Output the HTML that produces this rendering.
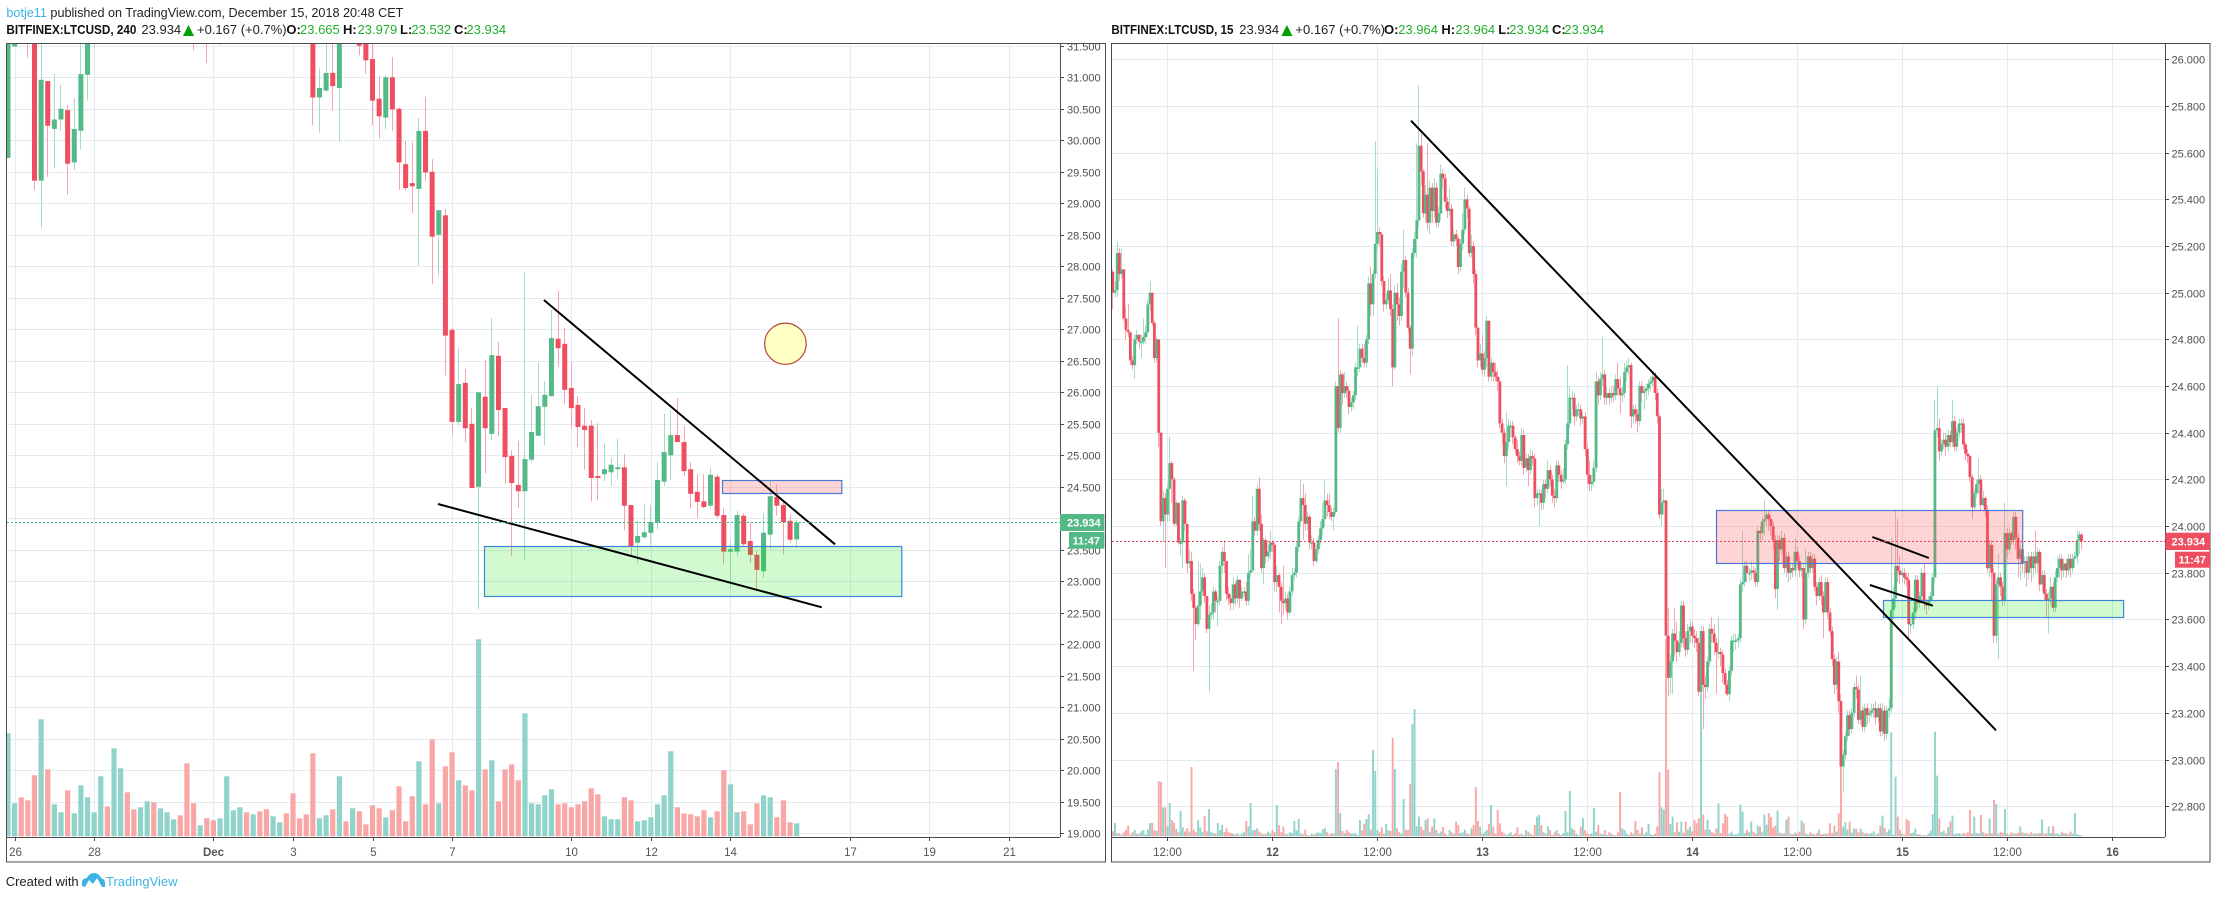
<!DOCTYPE html>
<html lang="en">
<head>
<meta charset="utf-8">
<title>LTCUSD chart</title>
<style>
html,body{margin:0;padding:0;background:#fff;width:2217px;height:899px;overflow:hidden}
svg{display:block;font-family:"Liberation Sans",sans-serif}
.hd{font-size:13px;fill:#222}
.b{font-weight:bold;fill:#111}
.g{fill:#22ad2e}
.ax{font-size:11px;fill:#4e4e4e}
.tm{font-size:11.5px;fill:#555;text-anchor:middle}
</style>
</head>
<body>
<svg id="root" xmlns="http://www.w3.org/2000/svg" width="2217" height="899" viewBox="0 0 2217 899">
<defs>
<clipPath id="clipL"><rect x="7" y="44" width="1053" height="793"/></clipPath>
<clipPath id="clipR"><rect x="1112" y="44" width="1053" height="793"/></clipPath>
</defs>
<rect x="0" y="0" width="2217" height="899" fill="#fff"/>

<g>
<text class="hd" x="6.4" y="17" textLength="397" lengthAdjust="spacingAndGlyphs"><tspan fill="#3bb3e4">botje11</tspan> published on TradingView.com, December 15, 2018 20:48 CET</text>
<text class="hd b" x="6.4" y="34" textLength="130" lengthAdjust="spacingAndGlyphs">BITFINEX:LTCUSD, 240</text>
<text class="hd" x="141.4" y="34">23.934</text>
<polygon points="183,36 194,36 188.5,25" fill="#00a000"/>
<text class="hd" x="197" y="34">+0.167 (+0.7%)</text>
<text class="hd b" x="286.4" y="34">O:</text><text class="hd g" x="300" y="34">23.665</text>
<text class="hd b" x="343" y="34">H:</text><text class="hd g" x="357.5" y="34">23.979</text>
<text class="hd b" x="400" y="34">L:</text><text class="hd g" x="411.4" y="34">23.532</text>
<text class="hd b" x="454" y="34">C:</text><text class="hd g" x="466.4" y="34">23.934</text>
</g>

<g>
<text class="hd b" x="1111.4" y="34" textLength="122" lengthAdjust="spacingAndGlyphs">BITFINEX:LTCUSD, 15</text>
<text class="hd" x="1239.3" y="34">23.934</text>
<polygon points="1281.4,36 1292.4,36 1286.9,25" fill="#00a000"/>
<text class="hd" x="1295.4" y="34">+0.167 (+0.7%)</text>
<text class="hd b" x="1384" y="34">O:</text><text class="hd g" x="1398.2" y="34">23.964</text>
<text class="hd b" x="1441.4" y="34">H:</text><text class="hd g" x="1455.4" y="34">23.964</text>
<text class="hd b" x="1498.2" y="34">L:</text><text class="hd g" x="1509.3" y="34">23.934</text>
<text class="hd b" x="1552" y="34">C:</text><text class="hd g" x="1564.3" y="34">23.934</text>
</g>

<g id="leftGrid"></g>
<g id="rightGrid"></g>
<g clip-path="url(#clipL)">
<g id="leftVol"></g>
<g id="leftCandles"></g>
<rect x="722.5" y="480.5" width="119.3" height="13" fill="#ff5252" fill-opacity=".25" stroke="#4a78d8" stroke-width="1.2"/>
<rect x="484.5" y="546.5" width="417.3" height="50" fill="#00e600" fill-opacity=".18" stroke="#3d85d8" stroke-width="1.2"/>
<line x1="543.9" y1="300" x2="835" y2="544.3" stroke="#000" stroke-width="2"/>
<line x1="437.9" y1="504" x2="821.8" y2="607.3" stroke="#000" stroke-width="2"/>
<ellipse cx="785.4" cy="343.7" rx="20.8" ry="20.6" fill="#ffffc4" stroke="#b5463a" stroke-width="1.2"/>
<line x1="7" y1="522.5" x2="1060" y2="522.5" stroke="#3fb57f" stroke-width="1" stroke-dasharray="2 2"/>
</g>
<g clip-path="url(#clipR)">
<g id="rightVol"></g>
<g id="rightCandles"></g>
<rect x="1716.5" y="510.5" width="306.2" height="53" fill="#ff5252" fill-opacity=".25" stroke="#4a78d8" stroke-width="1.2"/>
<rect x="1883.5" y="600.5" width="240.1" height="17" fill="#00e600" fill-opacity=".18" stroke="#3d85d8" stroke-width="1.2"/>
<line x1="1411" y1="120.7" x2="1996" y2="730.3" stroke="#000" stroke-width="2"/>
<line x1="1872.4" y1="537" x2="1928.9" y2="558" stroke="#000" stroke-width="2"/>
<line x1="1869.9" y1="585" x2="1932.8" y2="605.7" stroke="#000" stroke-width="2"/>
<line x1="1112" y1="541.5" x2="2165" y2="541.5" stroke="#e8455a" stroke-width="1" stroke-dasharray="2 2"/>
</g>

<g id="leftAxes"></g>
<g id="rightAxes"></g>

<g fill="none" stroke="#4c4c4c" stroke-width="1">
<rect x="6.5" y="43.5" width="1099" height="818.5"/>
<line x1="1060.5" y1="44" x2="1060.5" y2="837"/>
<line x1="7" y1="837.5" x2="1060" y2="837.5"/>
</g>
<g fill="none" stroke="#4c4c4c" stroke-width="1">
<rect x="1111.5" y="43.5" width="1098.5" height="818.5"/>
<line x1="2165.5" y1="44" x2="2165.5" y2="837"/>
<line x1="1112" y1="837.5" x2="2165" y2="837.5"/>
</g>

<g>
<rect x="1060" y="514" width="44.4" height="17" fill="#53b987"/>
<text x="1067" y="526.5" font-size="11" font-weight="bold" fill="#fff">23.934</text>
<rect x="1069" y="532" width="35.4" height="16.7" fill="#53b987"/>
<text x="1072.5" y="544.5" font-size="11" font-weight="bold" fill="#fff">11:47</text>
</g>
<g>
<rect x="2165.5" y="532.7" width="44.5" height="17.3" fill="#ee4e60"/>
<text x="2171.5" y="545.5" font-size="11" font-weight="bold" fill="#fff">23.934</text>
<rect x="2175" y="551.7" width="35" height="16" fill="#ee4e60"/>
<text x="2178.5" y="563.7" font-size="11" font-weight="bold" fill="#fff">11:47</text>
</g>

<g>
<text x="5.7" y="886" font-size="13" fill="#222">Created with</text>
<path d="M82 886 L82 882 Q83 878 87 878 Q89 873 94 873 Q99 873 101 878 Q105 879 105 883 L105 887 L102 887 L97 878 L93 884 L89 880 L85 887 Z" fill="#3bb3e4"/>
<text x="106" y="886" font-size="13" fill="#3bb3e4">TradingView</text>
</g>
</svg>

<script>
var leftPriceTicks=["19.000","19.500","20.000","20.500","21.000","21.500","22.000","22.500","23.000","23.500","24.000","24.500","25.000","25.500","26.000","26.500","27.000","27.500","28.000","28.500","29.000","29.500","30.000","30.500","31.000","31.500"];
var leftTimeLabels=["26","28","Dec","3","5","7","10","12","14","17","19","21"];
var leftTimeDays=[0,2,5,7,9,11,14,16,18,21,23,25];
var rightPriceTicks=["22.800","23.000","23.200","23.400","23.600","23.800","24.000","24.200","24.400","24.600","24.800","25.000","25.200","25.400","25.600","25.800","26.000"];
var rightTimeLabels=["12:00","12","12:00","13","12:00","14","12:00","15","12:00","16"];
var rightTimeHalfDays=[0,1,2,3,4,5,6,7,8,9];

var leftOpens=[29.72,31.49,32.6,32.8,32.1,29.36,30.94,30.18,30.33,30.48,29.65,30.15,31.04,32.0,32.4,32.8,32.4,33.4,33.9,33.4,33.1,33.5,33.8,33.4,33.7,33.9,34.1,33.7,32.7,32.2,32.8,32.3,32.1,32.6,33.5,33.8,34,33.7,33.9,33.6,33.3,33.5,33.6,33.3,32.9,32.7,32.6,30.68,30.79,31.07,30.83,32.4,32.2,32.3,31.9,31.29,30.66,30.36,31.0,30.5,29.62,29.32,29.23,30.15,29.5,28.5,28.81,26.99,25.53,26.15,25.50,24.50,25.93,25.34,26.58,25.75,24.99,24.53,24.43,24.93,25.31,25.77,25.94,26.85,26.77,26.07,25.80,25.47,25.47,24.67,24.70,24.73,24.78,24.81,24.21,23.61,23.70,23.77,23.93,24.58,25.0,25.32,25.21,24.78,24.42,24.27,24.20,24.66,24.05,23.47,23.47,24.04,23.64,23.42,23.16,23.74,24.34,24.21,23.96,23.665];
var leftHighs=[33.0,32.2,32.8,33,32.3,32.0,30.94,31.05,30.88,30.56,30.67,32,32.2,32.6,33,33,33.6,34.2,34.1,33.7,33.8,34,34,33.9,34.1,34.3,34.3,33.9,33,33,33,32.6,32.8,33.8,34,34.2,34.2,34.1,34,33.8,33.7,33.8,33.8,33.5,33.1,33,32.8,31.14,32,32,32.4,32.6,32.7,32.5,32.3,32,31.02,31.04,31.32,30.52,29.99,29.97,30.35,30.69,29.70,28.89,28.91,27.02,26.70,26.37,25.75,26.0,26.51,27.18,26.80,25.75,25.08,25.23,27.91,25.96,26.47,26.18,27.31,27.61,27.02,26.48,25.94,25.75,25.56,25.51,25.18,24.96,25.26,25.02,24.21,23.96,24.23,24.21,24.89,25.66,25.72,25.91,25.47,24.89,24.70,24.70,24.81,24.70,24.16,23.62,24.12,24.08,23.93,23.48,24.08,24.61,24.54,24.29,24.07,23.979];
var leftLows=[29.72,31.49,32.0,31.31,29.21,28.61,29.42,29.55,30.15,29.14,29.53,29.85,30.63,31.47,31.9,32.2,32.1,33,33.2,32.9,32.8,33.2,33.2,33.1,33.4,33.7,33.5,32.4,31.43,32,31.23,31.8,31.51,32.4,33.2,33.5,33.4,33.5,33.4,33.1,33.1,33.3,33.1,32.6,32.5,32.4,30.24,30.12,30.76,30.47,29.98,31.9,32.0,31.35,31.05,30.24,30.03,30.18,30.15,29.21,29.21,28.85,28.01,29.35,27.72,27.85,26.27,25.32,25.47,25.21,24.48,22.55,24.72,25.24,25.31,24.54,23.40,24.16,23.35,24.88,25.31,25.16,25.93,26.40,25.81,25.42,25.13,24.77,24.27,24.29,24.59,24.51,24.62,23.81,23.40,23.29,23.67,23.58,23.83,24.51,24.61,25.21,24.67,24.16,24.0,24.16,24.16,24.0,23.27,22.89,23.40,23.56,23.29,22.85,23.05,23.51,24.04,23.43,23.61,23.532];
var leftCloses=[33.0,32.0,32.2,32.1,29.36,30.96,30.23,30.33,30.50,29.63,30.18,31.05,31.9,32.4,32.8,32.4,33.4,33.9,33.4,33.1,33.5,33.8,33.4,33.7,33.9,34.1,33.7,32.7,32.2,32.8,32.3,32.1,32.6,33.5,33.8,34,33.7,33.9,33.6,33.3,33.5,33.6,33.3,32.9,32.7,32.6,30.68,30.83,31.07,30.86,32.2,32.2,32.5,31.50,31.27,30.63,30.38,31.0,30.49,29.65,29.24,29.27,30.15,29.49,28.47,28.89,26.90,25.53,26.13,25.43,24.48,26.0,25.43,26.59,25.72,24.97,24.56,24.43,24.94,25.37,25.78,25.96,26.86,26.70,26.04,25.75,25.45,25.40,24.64,24.64,24.78,24.85,24.81,24.20,23.56,23.72,23.78,23.94,24.61,25.05,25.32,25.21,24.75,24.39,24.26,24.18,24.69,24.04,23.47,23.51,24.05,23.59,23.42,23.18,23.77,24.35,24.20,23.94,23.66,23.934];
var leftVolumes=[309,99,117,108,183,351,201,96,72,138,69,153,117,72,180,90,264,204,132,81,87,105,102,84,72,51,63,219,99,33,54,48,54,180,78,87,72,66,75,81,60,42,69,129,54,66,249,54,63,81,180,45,84,75,36,93,84,57,78,150,45,120,225,96,291,99,210,252,168,153,138,591,201,228,105,201,216,168,369,99,96,123,141,96,99,87,96,105,144,126,60,51,51,117,108,45,48,57,96,123,255,87,69,66,60,78,57,75,198,156,72,75,36,99,123,117,57,108,42,39];

var rightFirstOpen=[25.12];
var rightCloses=[
25.09,25.00,25.01,25.17,25.08,25.10,24.89,24.84,24.83,24.71,24.69,24.80,24.82,24.79,24.79,24.81,24.83,24.95,25.00,24.87,
24.72,24.80,24.40,24.02,24.12,24.05,24.16,24.27,24.20,24.01,24.10,23.93,23.93,24.11,24.01,23.84,23.85,23.71,23.65,23.58,
23.66,23.72,23.78,23.70,23.56,23.62,23.63,23.72,23.68,23.68,23.83,23.89,23.85,23.71,23.69,23.67,23.75,23.69,23.77,23.69,
23.72,23.72,23.68,23.80,23.81,24.02,23.98,24.16,24.01,23.82,23.94,23.87,23.89,23.93,23.92,23.76,23.79,23.74,23.68,23.67,
23.69,23.63,23.72,23.79,23.80,23.91,24.02,24.12,24.09,24.01,24.04,23.93,23.93,23.85,23.90,23.94,23.99,24.03,24.11,24.09,
24.06,24.04,24.06,24.60,24.42,24.65,24.57,24.60,24.58,24.51,24.53,24.56,24.68,24.68,24.76,24.72,24.70,24.80,25.04,24.95,25.08,
25.21,25.26,25.25,25.05,24.95,24.97,25.01,24.93,24.68,25.00,24.95,24.90,25.09,25.14,25.00,24.85,24.76,25.17,25.23,25.31,
25.63,25.52,25.34,25.42,25.30,25.45,25.35,25.45,25.30,25.34,25.51,25.49,25.39,25.35,25.36,25.22,25.25,25.23,25.11,25.21,
25.27,25.40,25.36,25.17,25.20,25.08,24.85,24.71,24.74,24.67,24.72,24.88,24.64,24.70,24.66,24.64,24.62,24.44,24.40,24.30,
24.36,24.43,24.43,24.38,24.33,24.30,24.28,24.39,24.25,24.29,24.24,24.30,24.29,24.12,24.14,24.14,24.10,24.18,24.16,24.24,
24.20,24.13,24.12,24.26,24.22,24.19,24.20,24.35,24.44,24.55,24.55,24.47,24.50,24.50,24.46,24.47,24.33,24.22,24.18,24.19,
24.25,24.62,24.56,24.63,24.65,24.55,24.57,24.55,24.57,24.56,24.63,24.59,24.56,24.57,24.66,24.68,24.69,24.47,24.50,24.48,
24.45,24.60,24.57,24.58,24.59,24.61,24.62,24.64,24.57,24.47,24.05,24.10,24.11,23.53,23.35,23.42,23.54,23.51,23.46,23.50,
23.66,23.52,23.47,23.55,23.57,23.53,23.52,23.50,23.29,23.55,23.32,23.31,23.42,23.56,23.54,23.50,23.46,23.46,23.45,23.37,
23.32,23.28,23.38,23.51,23.51,23.51,23.52,23.75,23.76,23.83,23.80,23.80,23.81,23.80,23.76,23.98,23.97,24.02,24.03,24.05,
24.03,24.00,23.94,23.73,23.94,23.90,23.95,23.82,23.87,23.80,23.82,23.81,23.89,23.85,23.81,23.82,23.60,23.80,23.87,23.82,
23.86,23.74,23.70,23.76,23.70,23.63,23.76,23.63,23.55,23.43,23.32,23.42,23.25,22.97,23.02,23.10,23.19,23.13,23.20,
23.31,23.30,23.17,23.21,23.14,23.22,23.19,23.20,23.21,23.22,23.18,23.22,23.12,23.21,23.11,23.21,23.22,23.64,23.69,23.83,
23.81,23.79,23.80,23.78,23.77,23.58,23.58,23.63,23.77,23.67,23.70,23.80,23.67,23.66,23.68,23.70,23.78,24.41,24.42,24.32,
24.35,24.37,24.34,24.39,24.36,24.45,24.34,24.40,24.44,24.44,24.35,24.31,24.30,24.21,24.08,24.14,24.18,24.20,24.09,24.12,
24.07,23.82,23.92,23.80,23.53,23.75,23.78,23.74,23.68,23.97,23.90,23.97,23.94,24.04,23.95,23.86,23.90,23.84,23.85,23.80,
23.87,23.82,23.87,23.84,23.89,23.75,23.79,23.71,23.68,23.69,23.74,23.65,23.78,23.82,23.86,23.81,23.84,23.81,23.86,23.82,
23.86,23.87,23.94,23.964,23.934];
var rightHighs=[
25.14,25.10,25.05,25.22,25.19,25.19,25.10,24.94,24.95,24.83,24.73,24.82,24.84,24.82,24.82,24.89,24.86,24.97,25.05,24.91,
24.88,24.81,24.80,24.40,24.15,24.14,24.18,24.38,24.28,24.21,24.11,24.10,23.95,24.13,24.12,24.01,23.90,23.89,23.73,23.66,
23.85,23.84,23.82,23.80,23.70,23.66,23.67,23.74,23.73,23.70,23.85,23.91,23.94,23.85,23.74,23.71,23.78,23.76,23.79,23.77,
23.74,23.74,23.76,23.88,23.90,24.13,24.04,24.18,24.21,24.05,23.95,23.95,23.92,23.98,23.94,23.93,23.83,23.80,23.76,23.83,
23.72,23.71,23.74,23.82,23.82,23.93,24.04,24.20,24.18,24.14,24.06,24.05,23.96,23.95,23.92,23.96,24.02,24.10,24.20,24.14,
24.14,24.08,24.08,24.62,24.89,24.67,24.66,24.66,24.62,24.60,24.55,24.58,24.70,24.86,24.78,24.78,24.78,24.82,25.07,25.11,25.10,
25.65,25.53,25.28,25.26,25.07,25.00,25.06,25.08,24.95,25.03,25.04,24.98,25.12,25.27,25.16,25.02,24.86,25.19,25.26,25.64,
25.89,25.68,25.53,25.46,25.64,25.48,25.47,25.49,25.47,25.37,25.55,25.53,25.51,25.41,25.45,25.38,25.28,25.27,25.24,25.23,
25.34,25.45,25.42,25.37,25.25,25.22,25.10,24.86,24.78,24.82,24.75,24.90,24.88,24.72,24.70,24.70,24.67,24.64,24.46,24.42,
24.49,24.46,24.45,24.45,24.39,24.37,24.32,24.42,24.41,24.31,24.31,24.33,24.32,24.31,24.16,24.16,24.16,24.20,24.20,24.28,
24.26,24.22,24.16,24.28,24.28,24.24,24.25,24.37,24.69,24.60,24.58,24.57,24.52,24.53,24.52,24.49,24.49,24.35,24.28,24.22,
24.28,24.66,24.64,24.66,24.81,24.67,24.60,24.59,24.60,24.60,24.65,24.70,24.64,24.60,24.70,24.71,24.72,24.70,24.52,24.52,
24.50,24.62,24.62,24.60,24.61,24.63,24.64,24.66,24.66,24.59,24.48,24.16,24.16,24.11,23.65,23.45,23.56,23.65,23.59,23.55,
23.68,23.68,23.55,23.58,23.60,23.59,23.56,23.55,23.52,23.57,23.57,23.36,23.44,23.58,23.61,23.58,23.52,23.61,23.48,23.47,
23.39,23.34,23.40,23.53,23.54,23.54,23.54,23.77,23.98,23.85,23.85,23.82,23.85,23.83,23.82,24.00,24.00,24.04,24.11,24.07,
24.07,24.04,24.02,23.96,23.96,23.96,23.98,23.97,23.89,23.89,23.84,23.84,23.95,23.91,23.87,23.84,23.84,23.90,23.89,23.89,
23.88,23.88,23.76,23.78,23.79,23.72,23.78,23.78,23.65,23.57,23.45,23.44,23.46,23.28,23.04,23.12,23.21,23.21,23.22,
23.33,23.36,23.32,23.36,23.23,23.24,23.24,23.22,23.24,23.24,23.25,23.24,23.24,23.24,23.23,23.23,23.26,23.95,23.74,24.07,
24.03,23.87,23.82,23.82,23.80,23.80,23.62,23.65,23.79,23.79,23.72,23.82,23.84,23.69,23.70,23.72,23.80,24.54,24.60,24.46,
24.37,24.40,24.40,24.41,24.41,24.54,24.47,24.42,24.46,24.46,24.46,24.36,24.33,24.31,24.22,24.16,24.20,24.29,24.22,24.15,
24.13,24.09,23.94,23.94,23.82,23.77,23.88,23.80,23.76,24.10,23.99,23.99,23.98,24.06,24.06,23.97,23.92,23.92,23.87,23.87,
23.89,23.89,23.89,23.98,23.91,23.90,23.81,23.81,23.73,23.72,23.78,23.76,23.81,23.87,23.88,23.88,23.86,23.86,23.88,23.88,
23.88,23.89,23.98,23.979,23.97];
var rightLows=[
25.00,24.93,24.98,24.98,25.05,25.06,24.88,24.80,24.81,24.69,24.67,24.63,24.78,24.76,24.72,24.78,24.78,24.81,24.92,24.86,
24.70,24.70,24.34,24.00,23.93,23.82,24.02,24.02,24.10,24.00,24.00,23.92,23.87,23.82,23.98,23.80,23.82,23.68,23.38,23.51,
23.57,23.60,23.70,23.67,23.54,23.29,23.60,23.60,23.63,23.57,23.66,23.80,23.80,23.68,23.66,23.64,23.64,23.66,23.67,23.65,
23.68,23.70,23.66,23.66,23.78,23.80,23.96,23.96,23.98,23.80,23.75,23.84,23.85,23.86,23.89,23.72,23.72,23.63,23.58,23.62,
23.64,23.60,23.62,23.70,23.77,23.78,23.89,24.00,23.94,23.98,23.98,23.90,23.90,23.83,23.84,23.88,23.92,23.96,24.00,24.04,
24.03,24.02,23.98,24.05,24.40,24.40,24.52,24.55,24.55,24.48,24.49,24.50,24.54,24.64,24.66,24.70,24.68,24.68,24.78,24.90,24.90,
25.06,25.18,25.20,25.03,24.92,24.93,24.95,24.90,24.60,24.67,24.88,24.86,24.88,25.02,24.98,24.83,24.65,24.73,25.15,25.15,
25.28,25.46,25.32,25.30,25.27,25.25,25.30,25.32,25.28,25.28,25.31,25.45,25.36,25.32,25.33,25.20,25.20,25.20,25.08,25.09,
25.18,25.25,25.32,25.15,25.15,25.04,24.82,24.68,24.68,24.65,24.64,24.68,24.62,24.62,24.62,24.62,24.58,24.42,24.35,24.27,
24.17,24.33,24.38,24.35,24.31,24.27,24.26,24.26,24.22,24.23,24.17,24.22,24.26,24.08,24.09,24.00,24.07,24.07,24.12,24.14,
24.17,24.10,24.08,24.10,24.19,24.16,24.18,24.18,24.33,24.42,24.50,24.43,24.45,24.47,24.43,24.44,24.30,24.18,24.15,24.15,
24.17,24.23,24.52,24.54,24.60,24.52,24.52,24.52,24.53,24.53,24.54,24.56,24.48,24.53,24.55,24.62,24.65,24.42,24.44,24.44,
24.40,24.43,24.53,24.50,24.54,24.56,24.58,24.60,24.54,24.44,24.03,24.00,24.05,23.50,23.27,23.28,23.28,23.44,23.42,23.44,
23.48,23.48,23.44,23.45,23.50,23.50,23.48,23.46,23.27,23.27,23.13,23.26,23.29,23.40,23.50,23.45,23.28,23.43,23.40,23.33,
23.28,23.27,23.25,23.36,23.46,23.47,23.48,23.50,23.72,23.74,23.76,23.76,23.77,23.77,23.74,23.74,23.94,23.94,23.96,24.00,
23.98,23.96,23.90,23.69,23.64,23.85,23.88,23.80,23.78,23.76,23.77,23.78,23.78,23.82,23.78,23.78,23.56,23.58,23.78,23.80,
23.80,23.72,23.66,23.68,23.66,23.52,23.68,23.60,23.53,23.40,23.28,23.30,23.20,22.95,22.86,23.00,23.08,23.10,23.11,
23.18,23.26,23.15,23.15,23.12,23.12,23.15,23.16,23.18,23.18,23.15,23.16,23.10,23.10,23.08,23.09,23.18,23.20,23.60,23.65,
23.76,23.75,23.76,23.75,23.74,23.51,23.54,23.56,23.60,23.64,23.65,23.68,23.64,23.62,23.64,23.66,23.68,23.76,24.38,24.28,
24.30,24.33,24.30,24.32,24.34,24.34,24.32,24.32,24.38,24.40,24.33,24.28,24.27,24.19,24.03,24.07,24.12,24.14,24.07,24.08,
24.04,23.80,23.78,23.68,23.50,23.50,23.43,23.70,23.66,23.66,23.86,23.88,23.92,23.92,23.90,23.78,23.77,23.80,23.78,23.74,
23.77,23.76,23.78,23.80,23.80,23.72,23.72,23.68,23.61,23.54,23.66,23.63,23.63,23.76,23.78,23.77,23.78,23.78,23.79,23.78,
23.80,23.82,23.84,23.88,23.90];
var rightVolumes=[
32,15,40,10,9,5,12,19,32,6,12,19,8,8,15,19,6,20,40,40,
18,16,166,163,86,87,30,100,49,41,22,12,76,27,15,24,12,208,20,12,
49,26,12,61,15,82,14,10,8,40,19,34,13,24,12,10,8,6,10,4,
9,12,46,30,100,18,19,24,14,9,6,8,14,9,19,12,94,33,12,29,
8,6,12,10,46,18,52,9,6,20,4,3,8,5,10,12,9,21,24,12,
6,10,8,202,223,70,16,10,19,12,8,9,10,4,49,18,37,52,66,20,
259,196,19,12,27,8,37,18,16,295,202,24,12,8,112,20,19,157,337,382,
30,59,29,19,49,54,12,29,54,19,9,14,28,9,3,19,12,8,44,34,
10,12,20,9,6,24,34,148,46,29,8,12,19,37,94,29,8,79,39,14,
9,4,8,12,4,9,27,6,8,4,19,14,8,4,34,59,64,34,12,8,
29,19,4,12,19,8,4,10,76,12,136,24,19,8,4,29,55,19,8,6,
10,85,14,34,8,6,19,4,12,9,4,4,12,133,24,19,8,4,12,8,
46,19,8,27,6,12,37,6,4,8,30,192,87,80,592,200,37,59,12,42,
14,44,10,44,20,29,15,50,39,54,559,65,20,50,20,12,9,23,98,10,
39,67,59,8,14,6,5,8,95,74,10,19,12,44,14,8,32,29,12,65,
35,70,57,27,32,77,11,8,9,50,59,8,6,11,9,14,47,39,8,5,
12,8,6,9,20,7,7,8,8,39,10,32,14,69,250,29,42,20,44,11,
23,23,12,23,12,9,9,7,10,15,5,9,32,62,25,12,20,312,5,179,
59,20,8,5,52,47,9,11,23,7,6,3,4,3,8,17,67,314,182,53,
12,17,9,27,44,62,7,8,9,6,10,8,12,79,9,59,10,8,64,12,
9,8,54,9,109,97,8,14,10,82,8,6,12,9,8,10,29,12,8,10,
6,12,8,9,8,10,51,8,9,29,10,31,8,9,6,14,10,8,6,14,
8,70,6,4,3];

var NS='http://www.w3.org/2000/svg';
function mk(tag,parent){var e=document.createElementNS(NS,tag);parent.appendChild(e);return e;}
function leftY(p){return 644.3+(22-p)*63;}
function rightY(p){return 59.3+(26-p)*233.4;}
function leftX(i){return 14.6+6.628*i;}
function rightX(i){return 1110.65+2.1865*i;}
function volH(v){return v/3;}

function drawCandles(host,xf,yf,o,h,l,c,bw,offset){
  var n=Math.min(o.length,h.length,l.length,c.length);
  for(var k=0;k<n;k++){
    var up=c[k]>=o[k];
    var x=xf(k+offset);
    var g=mk('g',host);
    
    
    var w=mk('rect',g);
    w.setAttribute('x',(Math.round(x-0.5)).toFixed(0));
    w.setAttribute('y',yf(h[k]).toFixed(1));
    w.setAttribute('width','1');
    w.setAttribute('height',Math.max(0,yf(l[k])-yf(h[k])).toFixed(1));
    w.setAttribute('fill',up?'#a5dcc3':'#f7a3ad');
    var b=mk('rect',g);
    var top=yf(Math.max(o[k],c[k])),bot=yf(Math.min(o[k],c[k]));
    b.setAttribute('x',(x-bw/2).toFixed(2));
    b.setAttribute('y',top.toFixed(1));
    b.setAttribute('width',bw);
    b.setAttribute('height',Math.max(1.5,bot-top).toFixed(1));
    b.setAttribute('fill',up?'#53b987':'#ee4e60');
  }
}
function drawVolume(host,xf,v,o,c,bw,offset){
  var n=Math.min(v.length,o.length,c.length);
  for(var k=0;k<n;k++){
    var b=mk('rect',host);
    
    
    var hh=volH(v[k]);
    b.setAttribute('x',(xf(k+offset)-bw/2).toFixed(2));
    b.setAttribute('y',(836.3-hh).toFixed(1));
    b.setAttribute('width',bw);
    b.setAttribute('height',hh.toFixed(1));
    b.setAttribute('fill',c[k]>=o[k]?'#8fd3ca':'#f9a6a6');
  }
}
function gridLine(host,x1,y1,x2,y2){
  var g=mk('line',host);
  
  
  g.setAttribute('x1',x1);g.setAttribute('y1',y1);g.setAttribute('x2',x2);g.setAttribute('y2',y2);
  g.setAttribute('stroke','#e3ebf1');g.setAttribute('stroke-width','1');
}
function drawPriceAxis(gridHost,axisHost,ticks,yf,x0,axisX,labelX){
  ticks.forEach(function(t){
    var y=Math.round(yf(parseFloat(t)))+0.5;
    gridLine(gridHost,x0,y,axisX,y);
    var m=mk('line',axisHost);
    
    
    m.setAttribute('x1',axisX);m.setAttribute('x2',axisX+4);m.setAttribute('y1',y);m.setAttribute('y2',y);
    m.setAttribute('stroke','#4c4c4c');
    var s=mk('text',axisHost);
    
    
    s.setAttribute('class','ax');
    s.setAttribute('x',labelX);
    s.setAttribute('y',(y+4).toFixed(1));
    s.textContent=t;
  });
}
function drawTimeAxis(gridHost,axisHost,labels,xs,boldFn){
  labels.forEach(function(t,k){
    var x=Math.round(xs[k])+0.5;
    gridLine(gridHost,x,44,x,837);
    var m=mk('line',axisHost);
    
    
    m.setAttribute('x1',x);m.setAttribute('x2',x);m.setAttribute('y1',837);m.setAttribute('y2',841);
    m.setAttribute('stroke','#4c4c4c');
    var s=mk('text',axisHost);
    
    
    s.setAttribute('class','tm');
    s.setAttribute('x',x);
    s.setAttribute('y','856');
    if(boldFn(t)){s.setAttribute('font-weight','bold');}
    s.textContent=t;
  });
}

var byId=function(id){return document.getElementById(id);};
drawPriceAxis(byId('leftGrid'),byId('leftAxes'),leftPriceTicks,leftY,7,1060,1067);
drawPriceAxis(byId('rightGrid'),byId('rightAxes'),rightPriceTicks,rightY,1112,2165,2171.5);
drawTimeAxis(byId('leftGrid'),byId('leftAxes'),leftTimeLabels,leftTimeDays.map(function(d){return leftX(d*6);}),function(t){return t==='Dec';});
drawTimeAxis(byId('rightGrid'),byId('rightAxes'),rightTimeLabels,rightTimeHalfDays.map(function(d){return rightX(26+d*48);}),function(t){return t.indexOf(':')<0;});

drawVolume(byId('leftVol'),leftX,leftVolumes,leftOpens,leftCloses,5.2,-1);
drawCandles(byId('leftCandles'),leftX,leftY,leftOpens,leftHighs,leftLows,leftCloses,5,-1);

var rightOpens=rightFirstOpen.concat(rightCloses.slice(0,rightCloses.length-1));
drawVolume(byId('rightVol'),rightX,rightVolumes,rightOpens,rightCloses,1.9,0);
drawCandles(byId('rightCandles'),rightX,rightY,rightOpens,rightHighs,rightLows,rightCloses,2.8,0);
</script>
</body>
</html>
